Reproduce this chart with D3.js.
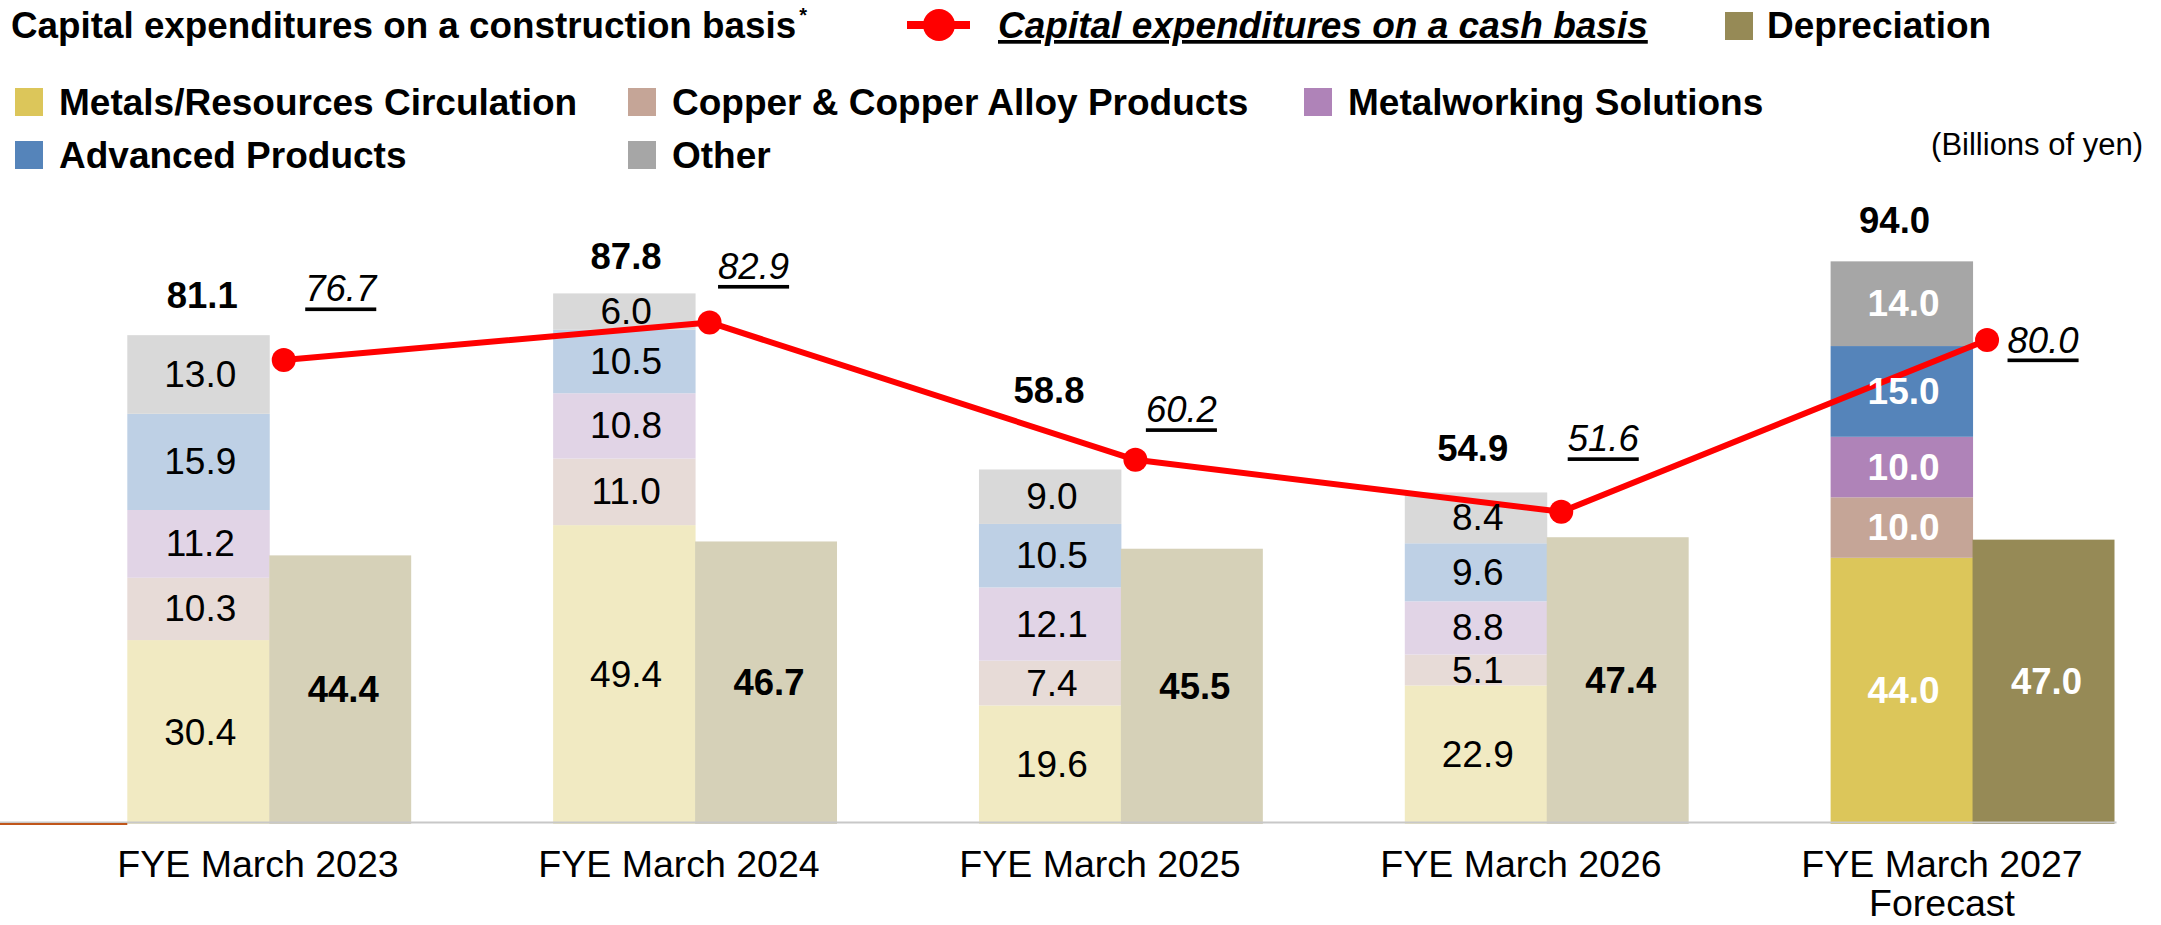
<!DOCTYPE html>
<html><head><meta charset="utf-8">
<script src="https://cdn.jsdelivr.net/npm/d3@7"></script>
<style>
html,body{margin:0;padding:0;background:#fff;}
svg{display:block;font-family:"Liberation Sans",Arial,Helvetica,sans-serif;}
</style></head><body>
<svg id="chart" width="2161" height="925"></svg>
<script>
// ---------------- data ----------------
const categories = ["FYE March 2023", "FYE March 2024", "FYE March 2025", "FYE March 2026", "FYE March 2027"];
const categoryLines = [["FYE March 2023"], ["FYE March 2024"], ["FYE March 2025"], ["FYE March 2026"], ["FYE March 2027", "Forecast"]];
const isForecast = [false, false, false, false, true];

const segmentNames = ["Metals/Resources Circulation", "Copper & Copper Alloy Products", "Metalworking Solutions", "Advanced Products", "Other"];
const metals       = [30.4, 49.4, 19.6, 22.9, 44.0];
const copper       = [10.3, 11.0,  7.4,  5.1, 10.0];
const metalworking = [11.2, 10.8, 12.1,  8.8, 10.0];
const advanced     = [15.9, 10.5, 10.5,  9.6, 15.0];
const other        = [13.0,  6.0,  9.0,  8.4, 14.0];
const totals       = [81.1, 87.8, 58.8, 54.9, 94.0];
const cashBasis    = [76.7, 82.9, 60.2, 51.6, 80.0];
const depreciation = [44.4, 46.7, 45.5, 47.4, 47.0];

// ---------------- styles ----------------
const strongColors = ["#DCC65A", "#C5A597", "#AF83B8", "#5584BA", "#A6A6A6"];
const paleColors   = ["#F1EAC2", "#E7DBD7", "#E1D4E6", "#BED0E5", "#D9D9D9"];
const depStrong = "#968A56", depPale = "#D6D1B8";
const red = "#FF0000";
// label placement offsets (text centre relative to anchor), layout only
const totalLabelOffsets = [[4, -40], [2, -37], [-1, -79], [-3, -44], [-7, -41]];
const cashLabelOffsets  = [[57, -71], [44, -56], [46, -50], [42, -73], [56, 0]];

const FONT = 36.5;
const svg = d3.select("#chart");

// ---------------- scales ----------------
const x = d3.scaleBand().domain(categories).range([127.3, 2114.5]).paddingInner(1/3).paddingOuter(0);
const sub = d3.scaleBand().domain(["stack", "dep"]).range([0, x.bandwidth()]);
const y = d3.scaleLinear().domain([0, 100]).range([824, 219]);
const xLabel = d3.scalePoint().domain(categories).range([258, 1942]);

// ---------------- stacked data ----------------
const rows = categories.map((c, i) => ({
  cat: c, i,
  s0: metals[i], s1: copper[i], s2: metalworking[i], s3: advanced[i], s4: other[i]
}));
const keys = ["s0", "s1", "s2", "s3", "s4"];
const stacked = d3.stack().keys(keys)(rows);

const gBars = svg.append("g");
stacked.forEach((layer, k) => {
  gBars.selectAll(null).data(layer).join("rect")
    .attr("x", d => x(d.data.cat) + sub("stack"))
    .attr("y", d => y(d[1]))
    .attr("width", sub.bandwidth() + 0.5)
    .attr("height", d => y(d[0]) - y(d[1]))
    .attr("fill", d => isForecast[d.data.i] ? strongColors[k] : paleColors[k]);
});
gBars.selectAll(null).data(categories).join("rect")
  .attr("x", c => x(c) + sub("dep"))
  .attr("y", (c, i) => y(depreciation[i]))
  .attr("width", sub.bandwidth())
  .attr("height", (c, i) => y(0) - y(depreciation[i]))
  .attr("fill", (c, i) => isForecast[i] ? depStrong : depPale);

// baseline
svg.append("line").attr("x1", 0).attr("x2", x.range()[1] + 2).attr("y1", y(0) - 1.5).attr("y2", y(0) - 1.5)
  .attr("stroke", "#C8C8C8").attr("stroke-width", 2);
svg.append("line").attr("x1", 0).attr("x2", x.range()[0]).attr("y1", y(0)).attr("y2", y(0))
  .attr("stroke", "#C0561A").attr("stroke-width", 2);

// ---------------- cash line ----------------
const px = (c) => x(c) + sub("dep") + 14.5;
const lineGen = d3.line().x((v, i) => px(categories[i])).y(v => y(v));
svg.append("path").datum(cashBasis).attr("d", lineGen)
  .attr("fill", "none").attr("stroke", red).attr("stroke-width", 6).attr("stroke-linejoin", "round");
svg.selectAll(null).data(cashBasis).join("circle")
  .attr("cx", (v, i) => px(categories[i])).attr("cy", v => y(v)).attr("r", 12).attr("fill", red);

// ---------------- labels ----------------
const gLab = svg.append("g").attr("text-anchor", "middle").attr("dominant-baseline", "central").attr("font-size", FONT);
stacked.forEach((layer, k) => {
  gLab.selectAll(null).data(layer).join("text")
    .attr("x", d => x(d.data.cat) + sub("stack") + sub.bandwidth() / 2 + 2)
    .attr("y", d => (y(d[0]) + y(d[1])) / 2)
    .attr("font-size", 37)
    .attr("font-weight", d => isForecast[d.data.i] ? "bold" : "normal")
    .attr("fill", d => isForecast[d.data.i] ? "#FFFFFF" : "#000000")
    .text(d => (d[1] - d[0]).toFixed(1));
});
gLab.selectAll(null).data(depreciation).join("text")
  .attr("x", (v, i) => x(categories[i]) + sub("dep") + sub.bandwidth() / 2 + 3)
  .attr("y", v => (y(v) + y(0)) / 2)
  .attr("font-weight", "bold")
  .attr("fill", (v, i) => isForecast[i] ? "#FFFFFF" : "#000000")
  .text(v => v.toFixed(1));
gLab.selectAll(null).data(totals).join("text")
  .attr("x", (v, i) => x(categories[i]) + sub("stack") + sub.bandwidth() / 2 + totalLabelOffsets[i][0])
  .attr("y", (v, i) => y(d3.sum(keys, k => rows[i][k])) + totalLabelOffsets[i][1])
  .attr("font-weight", "bold")
  .text(v => v.toFixed(1));
gLab.selectAll(null).data(cashBasis).join("text")
  .attr("x", (v, i) => px(categories[i]) + cashLabelOffsets[i][0])
  .attr("y", (v, i) => y(v) + cashLabelOffsets[i][1])
  .attr("font-style", "italic")
  .attr("text-decoration", "underline")
  .text(v => v.toFixed(1));

// ---------------- x axis labels ----------------
const gAxis = svg.append("g").attr("font-size", 37.5).attr("text-anchor", "middle");
categories.forEach((c, i) => {
  const t = gAxis.append("text").attr("x", xLabel(c)).attr("y", 877);
  categoryLines[i].forEach((ln, j) => {
    t.append("tspan").attr("x", xLabel(c)).attr("dy", j === 0 ? 0 : 39).text(ln);
  });
});

// ---------------- legend ----------------
const gLeg = svg.append("g").attr("font-size", 37).attr("font-weight", "bold");
const title = gLeg.append("text").attr("x", 11).attr("y", 38).attr("font-size", 36.8);
title.append("tspan").text("Capital expenditures on a construction basis");
title.append("tspan").attr("font-size", 20).attr("dy", -16).attr("dx", 3).text("*");

gLeg.append("line").attr("x1", 907).attr("x2", 970).attr("y1", 25).attr("y2", 25).attr("stroke", red).attr("stroke-width", 8);
gLeg.append("circle").attr("cx", 939).attr("cy", 25).attr("r", 16).attr("fill", red);
gLeg.append("text").attr("x", 998).attr("y", 38).attr("font-style", "italic").attr("text-decoration", "underline")
  .text("Capital expenditures on a cash basis");

gLeg.append("rect").attr("x", 1725).attr("y", 12).attr("width", 28).attr("height", 28).attr("fill", depStrong);
gLeg.append("text").attr("x", 1767).attr("y", 38).text("Depreciation");

const legendPos = [[59, 115], [672, 115], [1348, 115], [59, 168], [672, 168]];
segmentNames.forEach((n, k) => {
  const [tx, ty] = legendPos[k];
  gLeg.append("rect").attr("x", tx - 44).attr("y", ty - 27).attr("width", 28).attr("height", 28).attr("fill", strongColors[k]);
  gLeg.append("text").attr("x", tx).attr("y", ty).text(n);
});

svg.append("text").attr("x", 2143).attr("y", 155).attr("text-anchor", "end").attr("font-size", 31)
  .text("(Billions of yen)");
</script>
</body></html>
